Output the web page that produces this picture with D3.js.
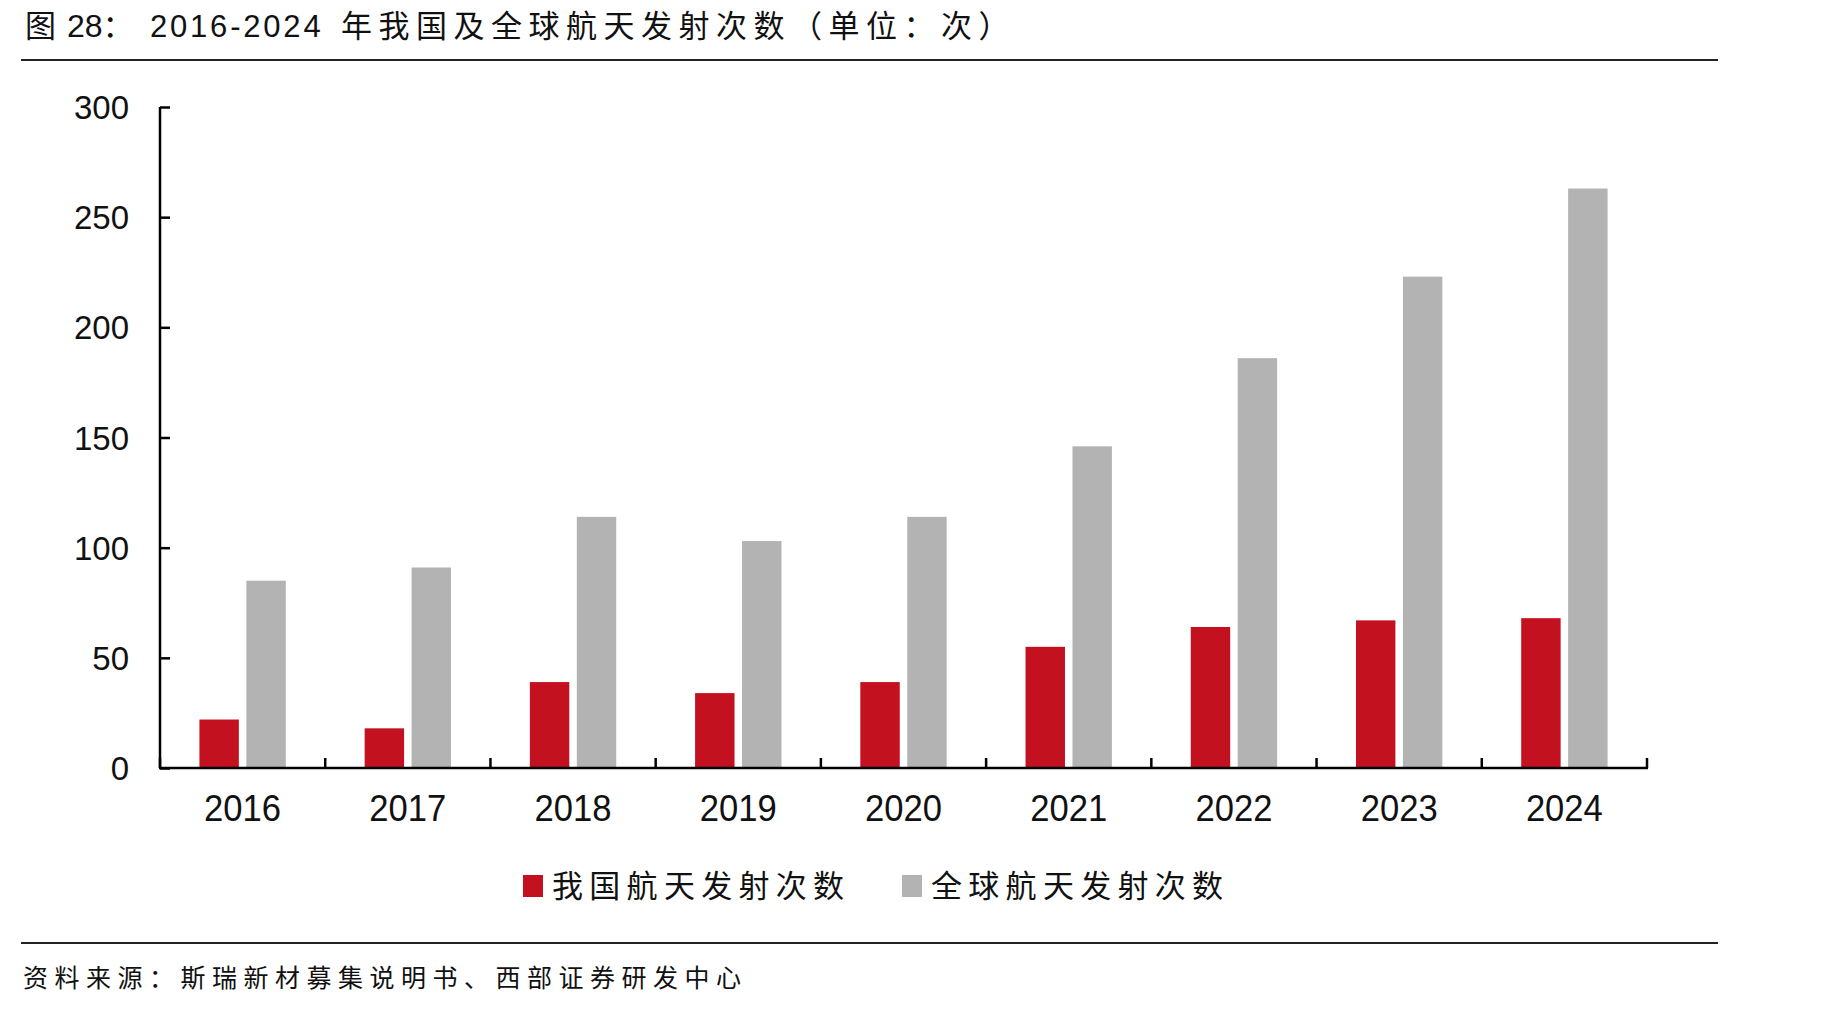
<!DOCTYPE html>
<html>
<head>
<meta charset="utf-8">
<script src="https://cdn.jsdelivr.net/npm/d3@7"></script>
<style>
  html, body { margin: 0; padding: 0; background: #fff; }
  svg { display: block; }
  .cn { font-family: "Noto Sans CJK SC", sans-serif; }
  .num { font-family: "Liberation Sans", Arial, sans-serif; }
</style>
</head>
<body>
<div id="chart"></div>
<script>
// data
const years = ["2016", "2017", "2018", "2019", "2020", "2021", "2022", "2023", "2024"];
const seriesNames = ["我国航天发射次数", "全球航天发射次数"];
const chinaLaunches = [22, 18, 39, 34, 39, 55, 64, 67, 68];
const globalLaunches = [85, 91, 114, 103, 114, 146, 186, 223, 263];
const yTicks = [0, 50, 100, 150, 200, 250, 300];
const colors = ["#C3111F", "#B3B3B3"];

const width = 1836, height = 1011;
const margin = { top: 107, right: 189, bottom: 243, left: 160 };

const svg = d3.select("#chart").append("svg")
    .attr("width", width)
    .attr("height", height);

// title
const title = svg.append("text")
    .attr("y", 37)
    .attr("fill", "#111");
title.append("tspan").attr("class", "cn").attr("x", 25).attr("font-size", 31).text("图");
title.append("tspan").attr("class", "num").attr("x", 67).attr("font-size", 32).text("28");
title.append("tspan").attr("class", "cn").attr("font-size", 31).text("：");
title.append("tspan").attr("class", "num").attr("x", 150).attr("font-size", 31)
    .attr("letter-spacing", 2.8).text("2016-2024");
title.append("tspan").attr("class", "cn").attr("x", 341).attr("font-size", 31)
    .attr("letter-spacing", 6.5).text("年我国及全球航天发射次数（单位：次）");

// rules
svg.append("line").attr("x1", 21).attr("x2", 1718).attr("y1", 60).attr("y2", 60)
    .attr("stroke", "#222").attr("stroke-width", 2);
svg.append("line").attr("x1", 21).attr("x2", 1718).attr("y1", 943).attr("y2", 943)
    .attr("stroke", "#222").attr("stroke-width", 2);

// source
svg.append("text")
    .attr("class", "cn")
    .attr("x", 23).attr("y", 987)
    .attr("font-size", 25)
    .attr("letter-spacing", 6.5)
    .attr("fill", "#111")
    .text("资料来源：斯瑞新材募集说明书、西部证券研发中心");

const x0 = d3.scaleBand()
    .domain(years)
    .range([margin.left, width - margin.right])
    .paddingInner(0).paddingOuter(0);

const x1 = d3.scaleBand()
    .domain(seriesNames)
    .range([0, x0.bandwidth()])
    .paddingInner(0.16)
    .paddingOuter(0.84);

const y = d3.scaleLinear()
    .domain([0, 300])
    .range([height - margin.bottom, margin.top]);

const rows = years.map((yr, i) => ({
    year: yr,
    values: [
        { key: seriesNames[0], value: chinaLaunches[i] },
        { key: seriesNames[1], value: globalLaunches[i] }
    ]
}));

const color = d3.scaleOrdinal().domain(seriesNames).range(colors);

// bars
svg.append("g")
  .selectAll("g")
  .data(rows)
  .join("g")
    .attr("transform", d => `translate(${x0(d.year)},0)`)
  .selectAll("rect")
  .data(d => d.values)
  .join("rect")
    .attr("x", d => x1(d.key))
    .attr("width", x1.bandwidth())
    .attr("y", d => y(d.value))
    .attr("height", d => y(0) - y(d.value))
    .attr("fill", d => color(d.key));

// y axis
const yAxis = svg.append("g")
    .attr("transform", `translate(${margin.left},0)`)
    .call(d3.axisRight(y).tickValues(yTicks).tickSize(10).tickFormat(""));
yAxis.select(".domain").attr("stroke", "#000").attr("stroke-width", 2.5)
    .attr("d", `M0,${y(300)}V${y(0)}`);
yAxis.selectAll(".tick line").attr("stroke", "#000").attr("stroke-width", 2.5);

svg.append("g")
  .selectAll("text")
  .data(yTicks)
  .join("text")
    .attr("class", "num")
    .attr("x", 129)
    .attr("y", d => y(d) + 12)
    .attr("text-anchor", "end")
    .attr("font-size", 33)
    .attr("fill", "#111")
    .text(d => d);

// x axis: boundary ticks pointing up
const boundaries = years.map(yr => x0(yr) + x0.bandwidth()).concat([x0(years[0])]);
const xAxis = svg.append("g");
xAxis.append("line")
    .attr("x1", margin.left - 1).attr("x2", width - margin.right + 1)
    .attr("y1", y(0)).attr("y2", y(0))
    .attr("stroke", "#000").attr("stroke-width", 2.5);
xAxis.selectAll("line.tk")
  .data(boundaries)
  .join("line")
    .attr("class", "tk")
    .attr("x1", d => d).attr("x2", d => d)
    .attr("y1", y(0)).attr("y2", y(0) - 10)
    .attr("stroke", "#000").attr("stroke-width", 2.5);

xAxis.selectAll("text")
  .data(years)
  .join("text")
    .attr("class", "num")
    .attr("x", d => x0(d) + x0.bandwidth() / 2)
    .attr("y", 821)
    .attr("text-anchor", "middle")
    .attr("font-size", 36)
    .attr("textLength", 77)
    .attr("lengthAdjust", "spacingAndGlyphs")
    .attr("fill", "#111")
    .text(d => d);

// legend
const legendX = [523, 902];
const legend = svg.append("g")
  .selectAll("g")
  .data(seriesNames)
  .join("g")
    .attr("transform", (d, i) => `translate(${legendX[i]},886)`);
legend.append("rect")
    .attr("x", 0).attr("y", -11)
    .attr("width", 20).attr("height", 22)
    .attr("fill", d => color(d));
legend.append("text")
    .attr("class", "cn")
    .attr("x", 29).attr("y", 11)
    .attr("font-size", 31)
    .attr("letter-spacing", 6.3)
    .attr("fill", "#111")
    .text(d => d);
</script>
</body>
</html>
